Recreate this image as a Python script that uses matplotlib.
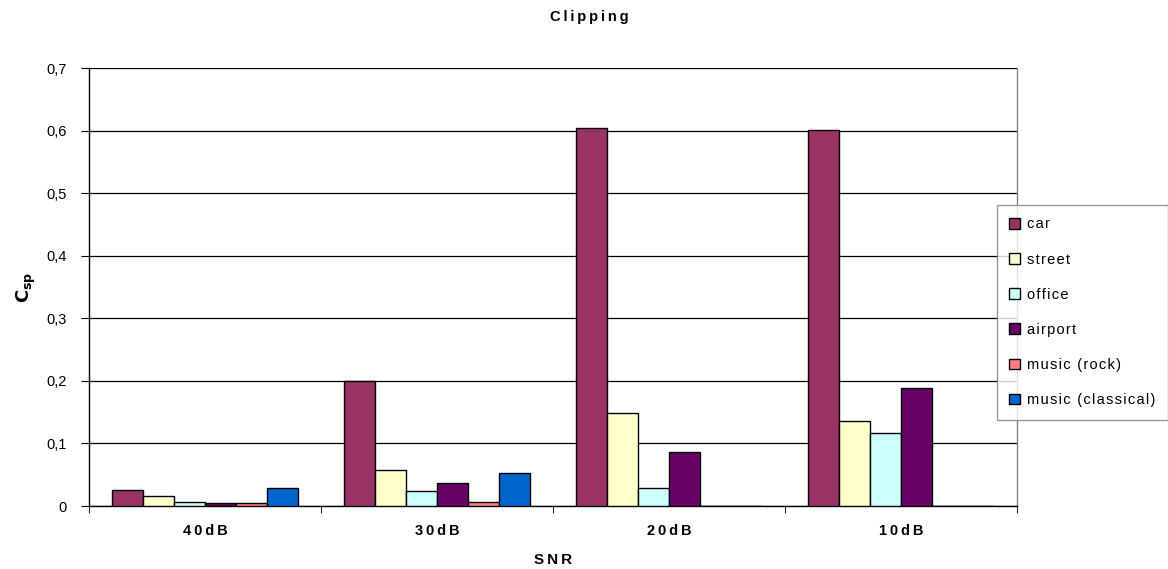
import matplotlib
matplotlib.use("Agg")
import matplotlib.pyplot as plt
import numpy as np

plt.rcParams['font.family'] = ['Liberation Sans', 'DejaVu Sans']

categories = ['40dB', '30dB', '20dB', '10dB']
series_names = ['car', 'street', 'office', 'airport', 'music (rock)', 'music (classical)']
car = [0.025, 0.200, 0.604, 0.601]
street = [0.016, 0.057, 0.148, 0.136]
office = [0.006, 0.024, 0.029, 0.117]
airport = [0.005, 0.036, 0.086, 0.188]
rock = [0.005, 0.007, 0.0, 0.0]
classical = [0.029, 0.053, 0.0, 0.0]
values = [car, street, office, airport, rock, classical]
colors = ['#993366', '#FFFFCC', '#CCFFFF', '#660066', '#FF8080', '#0066CC']
yticks = [0, 0.1, 0.2, 0.3, 0.4, 0.5, 0.6, 0.7]
ytick_labels = ['0', '0,1', '0,2', '0,3', '0,4', '0,5', '0,6', '0,7']


def spaced(s, sp='\u200a'):
    return sp.join(s)


fig = plt.figure(figsize=(11.68, 5.69), dpi=100)
ax = fig.add_axes([89/1168, 1-506/569, (1017-89)/1168, (506-68)/569])

x = np.arange(len(categories))
n = len(series_names)
w = 0.8 / n
for i, (name, vals, c) in enumerate(zip(series_names, values, colors)):
    ax.bar(x - 0.4 + w*(i+0.5), vals, width=w, color=c, edgecolor='black',
           linewidth=1.0, label=spaced(name), zorder=3)

ax.set_xlim(-0.5, len(categories)-0.5)
ax.set_ylim(0, 0.7)
ax.set_yticks(yticks)
ax.set_yticklabels(ytick_labels, fontsize=10.5)
ax.yaxis.grid(True, color='black', linewidth=0.9, zorder=0)
ax.set_axisbelow(True)

ax.set_xticks(x)
ax.set_xticklabels([spaced(c, '\u2009') for c in categories], fontsize=10.5, fontweight='bold')
ax.set_xticks(np.arange(len(categories)+1) - 0.5, minor=True)
ax.tick_params(axis='x', which='major', length=0, pad=13)
ax.tick_params(axis='x', which='minor', length=5, direction='out', color='black')
ax.tick_params(axis='y', length=6, direction='out', pad=10)

for s in ['left', 'bottom']:
    ax.spines[s].set_color('black')
    ax.spines[s].set_linewidth(1.0)
ax.spines['top'].set_visible(False)
ax.spines['right'].set_color('#808080')
ax.spines['right'].set_linewidth(1.0)

ax.set_xlabel(spaced('SNR', '\u2009'), fontsize=11, fontweight='bold', labelpad=11)
ax.set_ylabel(r'$\mathbf{C_{sp}}$', fontsize=13, labelpad=6)
fig.text(589/1168, 1-17/569, spaced('Clipping', '\u2009'), ha='center', va='center',
         fontsize=10.5, fontweight='bold')

leg = fig.legend(loc='upper left', bbox_to_anchor=(997/1168, 1-205/569),
                 frameon=True, fancybox=False, edgecolor='#808080',
                 fontsize=10.5, handlelength=0.75, handleheight=0.75,
                 handletextpad=0.45, labelspacing=1.45, borderpad=0.85,
                 borderaxespad=0)
leg.get_frame().set_linewidth(1.0)

fig.savefig('out.png', dpi=100)
